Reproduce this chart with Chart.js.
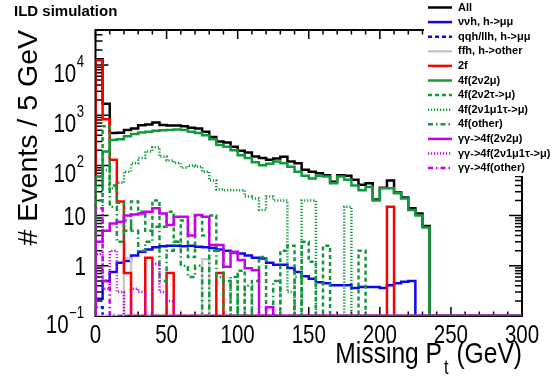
<!DOCTYPE html>
<html>
<head>
<meta charset="UTF-8">
<title>Missing Pt</title>
<script src="https://cdn.jsdelivr.net/npm/chart.js"></script>
<style>
  html, body { margin: 0; padding: 0; background: #fff; }
  #wrap { width: 556px; height: 378px; }
</style>
</head>
<body>
<div id="wrap"><canvas id="ptChart" width="556" height="378"></canvas></div>
<script>
// 60 bins of 5 GeV, 0-300 GeV
const binWidth = 5;
const xMin = 0, xMax = 300;
const yMin = 0.1, yMax = 4.98e4;
const xTickValues = [0, 50, 100, 150, 200, 250, 300];
const yTickExponents = [-1, 0, 1, 2, 3, 4];

const allBkg = [
  13000, 1700, 440, 445, 505, 545, 630, 650, 715, 640,
  625, 620, 600, 560, 545, 470, 370, 300, 285, 235,
  195, 180, 150, 140, 130, 138, 149, 119, 110, 82,
  75, 70, 64, 47, 64, 62, 52, 41, 44, 21,
  36, 50, 29, 23, 14, 11, 6.2, 0, 0, 0,
  0, 0, 0, 0, 0, 0, 0, 0, 0, 0
];
const nnhMuMu = [
  0.22, 0.5, 0.75, 1.15, 1.25, 1.6, 1.9, 2.1, 2.35, 2.45,
  2.5, 2.5, 2.45, 2.5, 2.4, 2.35, 2.25, 2.1, 2.0, 1.85,
  1.75, 1.6, 1.45, 1.4, 1.15, 1.05, 1.05, 0.9, 0.75, 0.62,
  0.55, 0.47, 0.45, 0.41, 0.41, 0.41, 0.36, 0.38, 0.38, 0.38,
  0.36, 0.41, 0.45, 0.48, 0.5, 0, 0, 0, 0, 0,
  0, 0, 0, 0, 0, 0, 0, 0, 0, 0
];
const qqhMuMu = [
  0.15, 0, 0, 0, 0, 0, 0, 0, 0, 0,
  0, 0, 0, 0, 0, 0, 0, 0, 0, 0,
  0, 0, 0, 0, 0, 0, 0, 0, 0, 0,
  0, 0, 0, 0, 0, 0, 0, 0, 0, 0,
  0, 0, 0, 0, 0, 0, 0, 0, 0, 0,
  0, 0, 0, 0, 0, 0, 0, 0, 0, 0
];
const ffhOther = [
  0, 0, 0, 0, 1.4, 0, 0, 0, 0, 0,
  0, 0, 0, 0, 0, 1.35, 0, 0, 0, 0,
  0, 0, 0, 0, 0, 0, 0, 0, 0, 0,
  0, 0, 0, 0, 0, 0, 0, 0, 0, 0,
  0, 0, 0, 0, 0, 0, 0, 0, 0, 0,
  0, 0, 0, 0, 0, 0, 0, 0, 0, 0
];
const twoF = [
  12500, 830, 130, 19, 0.72, 0, 0, 1.45, 0, 0,
  0.72, 0, 0, 0, 0, 0, 0, 0.72, 0, 0,
  0, 0, 0, 0, 0, 0, 0, 0, 0, 0,
  0, 0, 0, 0, 0, 0, 0, 0, 0, 0,
  0, 15, 0, 0, 0, 0, 0, 0, 0, 0,
  0, 0, 0, 0, 0, 0, 0, 0, 0, 0
];
const fourF2nu2mu = [
  60, 190, 320, 330, 380, 420, 450, 470, 490, 500,
  510, 520, 505, 470, 440, 400, 330, 255, 235, 200,
  160, 140, 115, 101, 108, 119, 110, 94, 75, 62,
  55, 62, 60, 44, 60, 52, 40, 32, 37, 20,
  35, 35, 28, 22, 13, 10, 5.8, 0, 0, 0,
  0, 0, 0, 0, 0, 0, 0, 0, 0, 0
];
const fourF2nu2tau = [
  20, 600, 40, 18, 5, 19, 12, 5, 20, 6,
  12, 3, 8, 1.5, 10, 4, 10, 2, 0.5, 0,
  0.8, 0, 0.5, 1.5, 0, 0, 2, 2.5, 0, 3,
  1.2, 0, 2.5, 0, 0, 0, 0, 2, 0, 0,
  0, 0, 0, 0, 0, 0, 0, 0, 0, 0,
  0, 0, 0, 0, 0, 0, 0, 0, 0, 0
];
const fourF2nu1mu1tau = [
  3, 80, 35, 45, 75, 110, 140, 190, 230, 150,
  125, 112, 90, 100, 95, 75, 50, 33, 32, 32,
  32, 24, 22, 13, 24, 20, 20, 0.3, 0, 20,
  20, 0, 0, 0, 0, 15, 0, 0, 0, 0,
  0, 0, 0, 0, 0, 0, 0, 0, 0, 0,
  0, 0, 0, 0, 0, 0, 0, 0, 0, 0
];
const fourFOther = [
  40, 100, 15, 3, 8, 5, 2, 3, 6, 0.5,
  2, 3, 1, 0.6, 1, 0, 2, 0.6, 0, 0.6,
  0, 0.4, 0, 0, 0, 0.5, 0, 0, 0.6, 0,
  0, 0, 0, 0, 0, 0, 0, 0, 0, 0,
  0, 0, 0, 0, 0, 0, 0, 0, 0, 0,
  0, 0, 0, 0, 0, 0, 0, 0, 0, 0
];
const gg2nu2mu = [
  3, 5, 7, 7.5, 10, 10.5, 11, 12, 14, 11,
  6.5, 9.5, 9.5, 4, 10.3, 9.5, 2.6, 2.6, 0.96, 1.9,
  1.3, 0.89, 0.82, 0, 0.15, 0, 0, 0, 0, 0,
  0, 0, 0, 0, 0, 0, 0, 0, 0, 0,
  0, 0, 0, 0, 0, 0, 0, 0, 0, 0,
  0, 0, 0, 0, 0, 0, 0, 0, 0, 0
];
const gg2nu1mu1tau = [
  1.7, 0.35, 2.0, 0.3, 0, 0.35, 0.3, 0, 1.1, 0.3,
  0.2, 0, 0, 0, 0, 0, 0, 0, 0, 0,
  0, 0, 0, 0, 0, 0, 0, 0, 0, 0,
  0, 0, 0, 0, 0, 0, 0, 0, 0, 0,
  0, 0, 0, 0, 0, 0, 0, 0, 0, 0,
  0, 0, 0, 0, 0, 0, 0, 0, 0, 0
];
const ggOther = [
  14, 0.5, 0, 0, 0, 0, 0, 0, 0, 0,
  0, 0, 0, 0, 0, 0, 0, 0, 0, 0,
  0, 0, 0, 0, 0, 0, 0, 0, 0, 0,
  0, 0, 0, 0, 0, 0, 0, 0, 0, 0,
  0, 0, 0, 0, 0, 0, 0, 0, 0, 0,
  0, 0, 0, 0, 0, 0, 0, 0, 0, 0
];

const GREEN = '#14983c';
const MAGENTA = '#c800f0';
const BLUE = '#0a0af0';

// drawn in this order, later ones on top
const series = [
  { label: 'All', counts: allBkg, color: '#000000', dash: [] },
  { label: 'ννh, h->μμ', counts: nnhMuMu, color: BLUE, dash: [] },
  { label: 'qqh/llh, h->μμ', counts: qqhMuMu, color: BLUE, dash: [4, 3] },
  { label: 'ffh, h->other', counts: ffhOther, color: '#c8c8c8', dash: [] },
  { label: '2f', counts: twoF, color: '#ff0000', dash: [] },
  { label: '4f(2ν2μ)', counts: fourF2nu2mu, color: GREEN, dash: [] },
  { label: '4f(2ν2τ->μ)', counts: fourF2nu2tau, color: GREEN, dash: [4, 3] },
  { label: '4f(2ν1μ1τ->μ)', counts: fourF2nu1mu1tau, color: GREEN, dash: [1.2, 1.8] },
  { label: '4f(other)', counts: fourFOther, color: GREEN, dash: [5, 3, 1.5, 3] },
  { label: 'γγ->4f(2ν2μ)', counts: gg2nu2mu, color: MAGENTA, dash: [] },
  { label: 'γγ->4f(2ν1μ1τ->μ)', counts: gg2nu1mu1tau, color: MAGENTA, dash: [1.2, 1.8] },
  { label: 'γγ->4f(other)', counts: ggOther, color: MAGENTA, dash: [5, 3, 1.5, 3] }
];

const SANS = "'Liberation Sans', Arial, Helvetica, sans-serif";
const SQUEEZE = 0.82; // axis text is drawn a little condensed

// histogram outline: empty bins sit on the lower edge of the frame
function histPoints(counts) {
  const pts = [{ x: xMin, y: yMin }];
  counts.forEach((c, i) => pts.push({ x: xMin + i * binWidth, y: Math.max(c, yMin) }));
  pts.push({ x: xMax, y: yMin });
  return pts;
}

// text squeezed horizontally, anchored at (x, y)
function narrowText(ctx, text, x, y, size, align) {
  ctx.save();
  ctx.font = size + 'px ' + SANS;
  ctx.textAlign = align;
  ctx.translate(x, y);
  ctx.scale(SQUEEZE, 1);
  ctx.fillText(text, 0, 0);
  ctx.restore();
  ctx.font = size + 'px ' + SANS;
  return ctx.measureText(text).width * SQUEEZE;
}

const framePlugin = {
  id: 'frame',
  beforeDatasetsDraw(chart) {
    const { ctx, chartArea: a, scales } = chart;
    ctx.save();
    ctx.strokeStyle = '#000';
    ctx.lineWidth = 1.5;
    ctx.beginPath();
    // x ticks, bottom and top
    for (let v = xMin; v <= xMax; v += 10) {
      const px = scales.x.getPixelForValue(v);
      const len = v % 50 === 0 ? 9 : 4.5;
      ctx.moveTo(px, a.bottom); ctx.lineTo(px, a.bottom - len);
      ctx.moveTo(px, a.top); ctx.lineTo(px, a.top + len);
    }
    // y ticks, left and right
    yTickExponents.forEach(e => {
      for (let m = 1; m <= 9; m++) {
        const v = m * Math.pow(10, e);
        if (v > yMax) break;
        const py = scales.y.getPixelForValue(v);
        const len = m === 1 ? 13 : 7;
        ctx.moveTo(a.left, py); ctx.lineTo(a.left + len, py);
        ctx.moveTo(a.right, py); ctx.lineTo(a.right - len, py);
      }
    });
    ctx.stroke();
    ctx.lineWidth = 2;
    ctx.strokeRect(a.left, a.top, a.right - a.left, a.bottom - a.top);
    ctx.restore();
  },
  afterDraw(chart) {
    const { ctx, chartArea: a, scales } = chart;
    ctx.save();
    ctx.fillStyle = '#000';
    ctx.textBaseline = 'alphabetic';

    // x tick labels
    xTickValues.forEach(v => {
      narrowText(ctx, String(v), scales.x.getPixelForValue(v), 343, 25, 'center');
    });

    // y tick labels, powers of ten
    yTickExponents.forEach(e => {
      const py = scales.y.getPixelForValue(Math.pow(10, e));
      if (e === 0 || e === 1) {
        narrowText(ctx, e === 0 ? '1' : '10', 86, py + 9.5, 25, 'right');
      } else {
        const ew = narrowText(ctx, e === -1 ? '\u22121' : String(e), 84, py + 2, 16, 'right');
        narrowText(ctx, '10', 84 - ew - 0.5, py + 16.5, 25, 'right');
      }
    });

    // x axis title with subscript
    ctx.font = '30px ' + SANS;
    const wTail = ctx.measureText(' (GeV)').width * SQUEEZE;
    const xTail = a.right - wTail;
    const wSub = narrowText(ctx, 't', xTail - 1, 374, 20, 'right');
    narrowText(ctx, ' (GeV)', xTail, 363, 30, 'left');
    narrowText(ctx, 'Missing P', xTail - wSub - 3, 363, 30, 'right');

    // y axis title
    ctx.save();
    ctx.translate(37, a.top);
    ctx.rotate(-Math.PI / 2);
    ctx.textAlign = 'right';
    ctx.font = '28.5px ' + SANS;
    ctx.fillText('# Events / 5 GeV', 0, 0);
    ctx.restore();

    // header
    ctx.textAlign = 'left';
    ctx.font = 'bold 15px ' + SANS;
    ctx.fillText('ILD simulation', 14, 16);

    // legend
    ctx.fillStyle = '#fff';
    ctx.fillRect(424, 0, 132, 176);
    ctx.font = 'bold 11px ' + SANS;
    ctx.textBaseline = 'middle';
    series.forEach((s, k) => {
      const y = 7.5 + 14.6 * k;
      ctx.strokeStyle = s.color;
      ctx.lineWidth = 2.5;
      ctx.setLineDash(s.dash);
      ctx.beginPath();
      ctx.moveTo(428, y); ctx.lineTo(452, y);
      ctx.stroke();
      ctx.setLineDash([]);
      ctx.fillStyle = '#000';
      ctx.fillText(s.label, 458, y);
    });
    ctx.restore();
  }
};

new Chart(document.getElementById('ptChart'), {
  type: 'line',
  data: {
    datasets: series.map((s, i) => ({
      label: s.label,
      data: histPoints(s.counts),
      borderColor: s.color,
      borderDash: s.dash,
      borderWidth: 2.5,
      pointRadius: 0,
      stepped: true,
      fill: false,
      order: series.length - i
    }))
  },
  options: {
    responsive: false,
    animation: false,
    events: [],
    layout: { padding: { left: 0, top: 30, right: 34, bottom: 0 } },
    plugins: { legend: { display: false }, tooltip: { enabled: false } },
    scales: {
      x: {
        type: 'linear', min: xMin, max: xMax,
        grid: { display: false }, border: { display: false },
        ticks: { display: false },
        afterFit: s => { s.height = 62; }
      },
      y: {
        type: 'logarithmic', min: yMin, max: yMax,
        grid: { display: false }, border: { display: false },
        ticks: { display: false },
        afterFit: s => { s.width = 95.5; }
      }
    }
  },
  plugins: [framePlugin]
});
</script>
</body>
</html>
